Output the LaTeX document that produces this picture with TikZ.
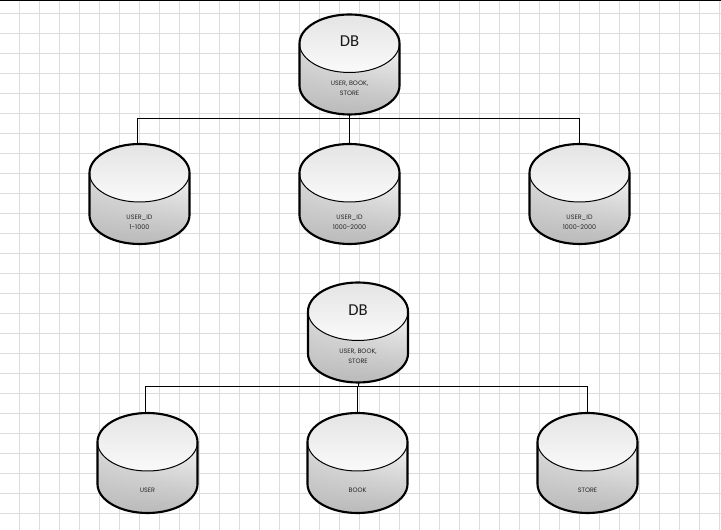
\documentclass[tikz,border=0pt]{standalone}
\usepackage{fontspec}
\setmainfont{Poppins}
\newfontfamily\dbtitlefont{Carlito}
\usetikzlibrary{calc,fadings}
\definecolor{gridgray}{RGB}{220,220,224}
\definecolor{lidtop}{RGB}{228,228,228}
\definecolor{lidlow}{RGB}{250,250,250}
\definecolor{bodylight}{RGB}{246,246,246}
\definecolor{bodydark}{RGB}{186,186,186}
\tikzset{
  dbtitle/.style={font=\dbtitlefont\fontsize{12.5}{14}\selectfont, text=black!90, inner sep=0pt},
  dblabel/.style={font=\fontsize{4.8}{7.5}\selectfont, text=black!85, align=center, inner sep=0pt},
  link/.style={draw=black, line width=0.75pt},
  pics/dbcan/.style={code={
    \shade[top color=bodylight, bottom color=bodydark]
         (-50,-21) -- (-50,21) arc[start angle=180, end angle=0, x radius=50, y radius=29]
         -- (50,-21) -- cycle;
    \fill[bodydark, opacity=0.45, path fading=east]
         (-50,-21) -- (-50,21) arc[start angle=180, end angle=0, x radius=50, y radius=29]
         -- (50,-21) -- cycle;
    \shade[top color=lidtop, bottom color=lidlow] (0,-21) ellipse[x radius=50, y radius=29];
    \draw[line width=0.75pt] (-50,-21) arc[start angle=180, end angle=0, x radius=50, y radius=29];
    \draw[line width=1.6pt] (-50,21) -- (-50,-21) arc[start angle=180, end angle=360, x radius=50, y radius=29]
         -- (50,21) arc[start angle=0, end angle=180, x radius=50, y radius=29];
    \coordinate (-top) at (0,-50);
    \coordinate (-bottom) at (0,50);
  }}
}
\begin{document}
\begin{tikzpicture}[x=0.75pt,y=-0.75pt]
  \useasboundingbox (0,0) rectangle (721,530);
  \fill[white] (0,0) rectangle (721,530);
  % sheet grid
  \foreach \gx in {0,...,35}{\draw[gridgray, line width=0.75pt] (19.5+\gx*20,0) -- (19.5+\gx*20,530);}
  \foreach \gy in {0,...,25}{\draw[gridgray, line width=0.75pt] (0,14+\gy*20) -- (721,14+\gy*20);}
  \draw[black, line width=0.75pt] (0,0.5) -- (721,0.5);

  % horizontal split
  \coordinate (busA) at (349.5,118.5);
  \pic (dbA) at (349.5,64.5) {dbcan};
  \pic (idA) at (139.5,194) {dbcan};
  \pic (idB) at (349.5,194) {dbcan};
  \pic (idC) at (579.5,194) {dbcan};
  \draw[link] (dbA-bottom) -- (busA);
  \draw[link] ($(idA-top)+(-2,0)$) |- (busA) -| (idC-top);
  \draw[link] (busA) -- (idB-top);
  \node[dbtitle] (dbAtitle) at (349.5,41) {DB};
  \node[dblabel] (dbAtext) at (349.5,88) {USER, BOOK,\\STORE};
  \node[dblabel] (idAtext) at (139.5,222) {USER\_ID\\1-1000};
  \node[dblabel] (idBtext) at (349.5,222) {USER\_ID\\1000-2000};
  \node[dblabel] (idCtext) at (579.5,222) {USER\_ID\\1000-2000};

  % vertical split
  \coordinate (busB) at (357.5,386.5);
  \pic (dbB) at (358,332.5) {dbcan};
  \pic (tabA) at (147.5,463) {dbcan};
  \pic (tabB) at (357.5,463) {dbcan};
  \pic (tabC) at (587.5,463) {dbcan};
  \draw[link] (dbB-bottom) -- (dbB-bottom |- busB);
  \draw[link] ($(tabA-top)+(-2,0)$) |- (busB) -| (tabC-top);
  \draw[link] (busB) -- (tabB-top);
  \node[dbtitle] (dbBtitle) at (358,310) {DB};
  \node[dblabel] (dbBtext) at (358,356) {USER, BOOK,\\STORE};
  \node[dblabel] (tabAtext) at (147.5,490) {USER};
  \node[dblabel] (tabBtext) at (357.5,490) {BOOK};
  \node[dblabel] (tabCtext) at (587.5,490) {STORE};
\end{tikzpicture}
\end{document}
